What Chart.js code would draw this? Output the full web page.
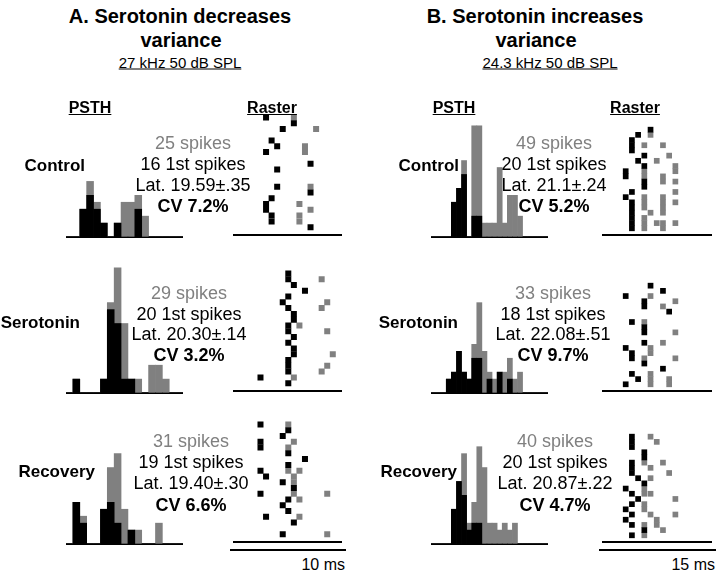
<!DOCTYPE html>
<html>
<head>
<meta charset="utf-8">
<script src="https://cdn.jsdelivr.net/npm/chart.js@4.4.1/dist/chart.umd.min.js"></script>
<style>
  body { margin: 0; background: #fff; }
  #fig { position: relative; width: 720px; height: 576px; overflow: hidden;
         font-family: "Liberation Sans", Arial, sans-serif; color: #000; }
  .t { position: absolute; white-space: nowrap; line-height: 1; }
  canvas { position: absolute; }
  .rule { position: absolute; height: 2px; background: #000; }
</style>
</head>
<body>
<div id="fig"></div>
<script>
// ---- PSTH data: spike counts per bin (black = first spikes, gray = all spikes)
const psthA1First = [0,0,4,6,4,2,0,2,0,0,4,0,0,0,0,0,0];
const psthA1All   = [0,0,4,8,5,2,0,2,5,5,6,3,0,0,0,0,0];
const psthA2First = [0,2,0,0,0,2,12,10,2,2,0,0,0,0,0,0,0];
const psthA2All   = [0,2,0,0,0,2,13,18,10,2,2,0,4,4,2,0,0];
const psthA3First = [0,6,3,0,0,5,6,3,0,2,0,0,0,0,0,0,0];
const psthA3All   = [0,6,4,0,0,5,11,13,5,2,2,0,0,3,0,0,0];

const psthB1First = [0,0,0,0,5,7,9,0,3,3,0,0,0,0,0,0,0,0,0,0,0,0,0];
const psthB1All   = [0,0,0,0,5,7,11,0,16,16,2,2,2,10,2,6,6,3,0,0,0,0,0];
const psthB2First = [0,0,0,2,3,6,3,2,5,5,0,2,0,3,0,2,0,0,0,0,0,0,0];
const psthB2All   = [0,0,0,2,3,6,3,2,7,13,6,3,2,3,3,5,2,3,0,0,0,0,0];
const psthB3First = [0,0,0,0,5,9,7,2,3,3,0,0,0,0,0,0,0,0,0,0,0,0,0];
const psthB3All   = [0,0,0,0,5,9,13,3,6,14,11,3,3,2,3,2,3,0,0,0,0,0,0];

// ---- Raster data: [time bin, trial]
const rasA1First = [[6,1],[11,2],[9,3],[7,5],[8,6],[6,7],[14,9],[8,10],[8,13],[14,14],[7,15],[6,16],[6,17],[7,18],[7,19],[14,20]];
const rasA1Later = [[11,1],[15,3],[13,6],[13,7],[14,13],[12,16],[14,17],[12,18],[12,19]];
const rasA2First = [[10,1],[10,2],[11,3],[13,4],[10,5],[9,6],[10,7],[11,8],[11,9],[10,10],[10,11],[11,12],[10,13],[11,14],[11,15],[10,16],[10,17],[10,18],[5,19],[10,20]];
const rasA2Later = [[16,2],[17,6],[16,7],[12,10],[17,11],[18,15],[17,17],[16,18],[11,19]];
const rasA3First = [[5,1],[10,2],[9,3],[5,4],[5,5],[10,6],[13,7],[10,8],[5,9],[6,10],[9,11],[11,12],[5,13],[10,14],[9,15],[10,16],[6,17],[11,18],[9,20]];
const rasA3Later = [[10,1],[11,4],[10,5],[10,9],[12,9],[11,10],[11,11],[11,13],[17,13],[12,14],[12,17],[17,20]];

const rasB1First = [[7,1],[5,2],[4,3],[4,4],[4,5],[6,6],[5,7],[6,8],[3,9],[3,10],[6,11],[6,12],[4,13],[3,14],[4,15],[4,16],[4,17],[4,18],[4,19],[4,20]];
const rasB1Later = [[7,2],[6,4],[9,4],[10,6],[8,7],[11,8],[6,9],[11,9],[6,10],[9,10],[9,11],[11,11],[11,13],[6,14],[9,14],[6,15],[9,15],[11,15],[6,16],[9,16],[7,17],[9,17],[6,18],[6,19],[8,19],[9,19],[11,19],[6,20],[9,20]];
const rasB2First = [[7,1],[9,2],[3,3],[6,4],[6,5],[10,6],[4,8],[6,9],[6,10],[6,12],[3,13],[4,14],[4,15],[6,16],[9,17],[4,18],[5,19],[3,20]];
const rasB2Later = [[7,3],[11,4],[9,5],[6,8],[11,10],[9,12],[7,13],[7,14],[6,15],[11,15],[7,18],[7,19],[10,19],[7,20],[10,20]];
const rasB3First = [[4,1],[4,2],[4,3],[6,4],[6,5],[4,6],[4,7],[4,8],[5,9],[6,10],[3,11],[4,12],[5,13],[4,14],[3,15],[4,16],[3,17],[4,18],[6,19],[4,20]];
const rasB3Later = [[7,1],[8,2],[6,6],[9,6],[7,7],[10,8],[7,9],[6,11],[6,12],[7,12],[11,13],[6,14],[6,15],[7,16],[11,16],[8,17],[6,18],[8,18],[9,19],[6,20]];

// ---- text
const rowNames = ["Control", "Serotonin", "Recovery"];
const statsA = [
  ["25 spikes", "16 1st spikes", "Lat. 19.59\u00b1.35", "CV 7.2%"],
  ["29 spikes", "20 1st spikes", "Lat. 20.30\u00b1.14", "CV 3.2%"],
  ["31 spikes", "19 1st spikes", "Lat. 19.40\u00b1.30", "CV 6.6%"]
];
const statsB = [
  ["49 spikes", "20 1st spikes", "Lat. 21.1\u00b1.24", "CV 5.2%"],
  ["33 spikes", "18 1st spikes", "Lat. 22.08\u00b1.51", "CV 9.7%"],
  ["40 spikes", "20 1st spikes", "Lat. 20.87\u00b1.22", "CV 4.7%"]
];

const GRAY = '#808080';
const UNIT = 6.95;      // px per count in the PSTHs
const PSTH_H = 140;
const RAS_H = 132;
const fig = document.getElementById('fig');

function txt(s, x, y, css, anchor) {
  const d = document.createElement('div');
  d.className = 't';
  d.textContent = s;
  d.style.cssText += css;
  d.style.left = x + 'px';
  d.style.top = y + 'px';
  d.style.transform = anchor === 'r' ? 'translate(-100%,-50%)' : 'translate(-50%,-50%)';
  fig.appendChild(d);
}

function canvasAt(left, top, w, h) {
  const c = document.createElement('canvas');
  c.width = w; c.height = h;
  c.style.left = left + 'px'; c.style.top = top + 'px';
  fig.appendChild(c);
  return c;
}

const baseOpts = {
  responsive: false, animation: false, events: [],
  layout: { padding: { bottom: 2 } },
  plugins: { legend: { display: false }, tooltip: { enabled: false } }
};
const xAxisLine = {
  grid: { display: false, drawTicks: false },
  ticks: { display: false },
  border: { display: true, color: '#000', width: 2 }
};

function drawPsth(left, width, base, first, all) {
  const cv = canvasAt(left, base - PSTH_H, width, PSTH_H + 2);
  new Chart(cv, {
    type: 'bar',
    data: {
      labels: first.map((_, i) => i + 1),
      datasets: [
        { data: first, backgroundColor: '#000' },
        { data: all, backgroundColor: GRAY }
      ]
    },
    options: Object.assign({}, baseOpts, {
      datasets: { bar: { grouped: false, categoryPercentage: 1, barPercentage: 1, borderWidth: 0 } },
      scales: {
        x: xAxisLine,
        y: { display: false, min: 0, max: PSTH_H / UNIT }
      }
    })
  });
}

function drawRaster(left, width, base, first, later, g) {
  const cv = canvasAt(left, base - RAS_H, width, RAS_H + 2);
  const pts = a => a.map(([bin, trial]) => ({ x: bin, y: trial }));
  const yMax = 20 + g.gap / g.rowPx;
  new Chart(cv, {
    type: 'scatter',
    data: {
      datasets: [
        { data: pts(first), backgroundColor: '#000' },
        { data: pts(later), backgroundColor: GRAY }
      ]
    },
    options: Object.assign({}, baseOpts, {
      elements: { point: { pointStyle: 'rect', radius: g.size / Math.SQRT2, hoverRadius: 0, borderWidth: 0 } },
      scales: {
        x: Object.assign({ type: 'linear', min: g.x0, max: g.x0 + width / g.colPx }, xAxisLine),
        y: { type: 'linear', display: false, reverse: true, min: yMax - RAS_H / g.rowPx, max: yMax }
      }
    })
  });
}

const rasGeoA = { x0: 0.28, colPx: 6, rowPx: 6.07, gap: 8, size: 6 };
const rasGeoB = { x0: -0.65, colPx: 6.67, rowPx: 5.44, gap: 7, size: 5.7 };
const bases = [237, 393, 544];

drawPsth(66, 117, bases[0], psthA1First, psthA1All);
drawPsth(66, 117, bases[1], psthA2First, psthA2All);
drawPsth(66, 117, bases[2], psthA3First, psthA3All);
drawPsth(431, 117, bases[0], psthB1First, psthB1All);
drawPsth(431, 117, bases[1], psthB2First, psthB2All);
drawPsth(431, 117, bases[2], psthB3First, psthB3All);

drawRaster(230, 116, bases[0], rasA1First, rasA1Later, rasGeoA);
drawRaster(230, 116, bases[1], rasA2First, rasA2Later, rasGeoA);
drawRaster(230, 116, bases[2], rasA3First, rasA3Later, rasGeoA);
drawRaster(599, 117, bases[0], rasB1First, rasB1Later, rasGeoB);
drawRaster(599, 117, bases[1], rasB2First, rasB2Later, rasGeoB);
drawRaster(599, 117, bases[2], rasB3First, rasB3Later, rasGeoB);

// second rule of the scale bars
[[230, 116], [599, 117]].forEach(([l, w]) => {
  const d = document.createElement('div');
  d.className = 'rule';
  d.style.left = l + 'px'; d.style.width = w + 'px'; d.style.top = (bases[2] + 5) + 'px';
  fig.appendChild(d);
});

// headings
const H1 = 'font-weight:bold;font-size:20px;';
txt("A. Serotonin decreases", 180, 16, H1);
txt("variance", 181, 40, H1);
txt("B. Serotonin increases", 535, 16, H1);
txt("variance", 536, 40, H1);
const SUB = 'font-size:15px;text-decoration:underline;';
txt("27 kHz 50 dB SPL", 180, 62, SUB);
txt("24.3 kHz 50 dB SPL", 550, 62, SUB);
const COL = 'font-weight:bold;font-size:16px;text-decoration:underline;';
txt("PSTH", 90, 108, COL);
txt("Raster", 272, 108, COL);
txt("PSTH", 454, 108, COL);
txt("Raster", 635, 108, COL);

const ROW = 'font-weight:bold;font-size:17px;';
const rowY = [165, 322, 471];
const rowRightA = [85, 80, 95];
const rowRightB = [459, 458, 457];
rowNames.forEach((n, i) => {
  txt(n, rowRightA[i], rowY[i], ROW, 'r');
  txt(n, rowRightB[i], rowY[i], ROW, 'r');
});

const statY = [[143, 164, 185, 206], [293, 314, 334, 355], [441, 462, 483, 505]];
const statXA = [193, 189, 191];
const statXB = [554, 553, 555];
function stats(lines, x, ys) {
  lines.forEach((s, j) => {
    let css = 'font-size:18px;';
    if (j === 0) css += 'color:' + GRAY + ';';
    if (j === 3) css += 'font-weight:bold;';
    txt(s, x, ys[j], css);
  });
}
statsA.forEach((l, i) => stats(l, statXA[i], statY[i]));
statsB.forEach((l, i) => stats(l, statXB[i], statY[i]));

txt("10 ms", 345, 565, 'font-size:16px;', 'r');
txt("15 ms", 715, 565, 'font-size:16px;', 'r');
</script>
</body>
</html>
